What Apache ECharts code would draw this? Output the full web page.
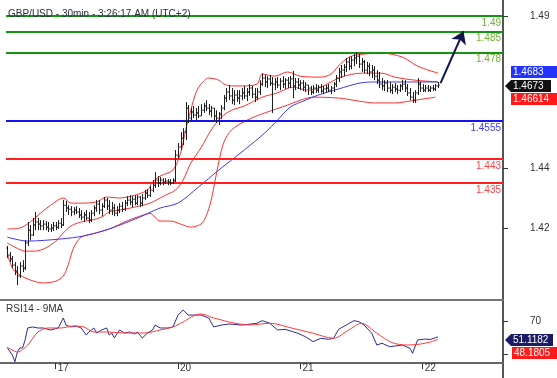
<!DOCTYPE html>
<html>
<head>
<meta charset="utf-8">
<script src="https://cdn.jsdelivr.net/npm/echarts@6/dist/echarts.min.js"></script>
<style>
html, body { margin: 0; padding: 0; background: #fff; }
#main { width: 557px; height: 378px; }
</style>
</head>
<body>
<div id="main"></div>
<script>
// GBP/USD 30 min bars : [open, close, low, high]
var ohlc = [
  [1.4136,1.4113,1.4103,1.4143],[1.4113,1.4100,1.4090,1.4123],[1.4100,1.4080,1.4070,1.4110],[1.4080,1.4060,1.4047,1.4090],
  [1.4060,1.4044,1.4014,1.4077],[1.4044,1.4077,1.4037,1.4090],[1.4077,1.4070,1.4057,1.4096],[1.4070,1.4153,1.4064,1.4162],
  [1.4153,1.4195,1.4143,1.4222],[1.4195,1.4179,1.4162,1.4212],[1.4179,1.4212,1.4176,1.4235],[1.4212,1.4222,1.4195,1.4255],
  [1.4222,1.4215,1.4195,1.4235],[1.4215,1.4209,1.4195,1.4228],[1.4209,1.4215,1.4195,1.4228],[1.4215,1.4205,1.4195,1.4225],
  [1.4205,1.4199,1.4189,1.4222],[1.4199,1.4202,1.4189,1.4215],[1.4202,1.4209,1.4192,1.4222],[1.4209,1.4205,1.4195,1.4222],
  [1.4205,1.4218,1.4199,1.4228],[1.4218,1.4212,1.4202,1.4235],[1.4212,1.4277,1.4209,1.4294],[1.4277,1.4268,1.4255,1.4291],
  [1.4268,1.4264,1.4245,1.4277],[1.4264,1.4255,1.4241,1.4274],[1.4255,1.4261,1.4245,1.4271],[1.4261,1.4255,1.4248,1.4274],
  [1.4255,1.4245,1.4235,1.4268],[1.4245,1.4238,1.4228,1.4261],[1.4238,1.4245,1.4222,1.4255],[1.4245,1.4235,1.4228,1.4261],
  [1.4235,1.4228,1.4218,1.4255],[1.4228,1.4251,1.4222,1.4261],[1.4251,1.4268,1.4241,1.4277],[1.4268,1.4281,1.4255,1.4294],
  [1.4281,1.4261,1.4248,1.4294],[1.4261,1.4274,1.4241,1.4284],[1.4274,1.4294,1.4268,1.4304],[1.4294,1.4274,1.4261,1.4301],
  [1.4274,1.4261,1.4248,1.4294],[1.4261,1.4268,1.4245,1.4288],[1.4268,1.4251,1.4241,1.4281],[1.4251,1.4261,1.4241,1.4274],
  [1.4261,1.4274,1.4251,1.4284],[1.4274,1.4264,1.4255,1.4288],[1.4264,1.4284,1.4258,1.4294],[1.4284,1.4294,1.4274,1.4307],
  [1.4294,1.4288,1.4277,1.4310],[1.4288,1.4297,1.4271,1.4307],[1.4297,1.4284,1.4277,1.4310],[1.4284,1.4304,1.4277,1.4310],
  [1.4304,1.4284,1.4271,1.4307],[1.4284,1.4301,1.4274,1.4314],[1.4301,1.4317,1.4294,1.4327],[1.4317,1.4310,1.4301,1.4330],
  [1.4310,1.4327,1.4304,1.4340],[1.4327,1.4343,1.4320,1.4360],[1.4343,1.4360,1.4334,1.4386],[1.4360,1.4350,1.4337,1.4373],
  [1.4350,1.4360,1.4343,1.4370],[1.4360,1.4353,1.4343,1.4366],[1.4353,1.4357,1.4347,1.4366],[1.4357,1.4353,1.4343,1.4363],
  [1.4353,1.4350,1.4343,1.4363],[1.4350,1.4357,1.4347,1.4366],[1.4360,1.4442,1.4353,1.4459],[1.4442,1.4469,1.4432,1.4482],
  [1.4469,1.4498,1.4459,1.4518],[1.4498,1.4518,1.4475,1.4531],[1.4518,1.4597,1.4492,1.4617],[1.4597,1.4564,1.4548,1.4607],
  [1.4564,1.4584,1.4557,1.4597],[1.4584,1.4574,1.4564,1.4604],[1.4574,1.4581,1.4557,1.4597],[1.4581,1.4571,1.4564,1.4604],
  [1.4571,1.4590,1.4571,1.4610],[1.4590,1.4604,1.4581,1.4614],[1.4604,1.4597,1.4587,1.4623],[1.4597,1.4587,1.4574,1.4610],
  [1.4587,1.4597,1.4567,1.4604],[1.4597,1.4571,1.4557,1.4597],[1.4571,1.4564,1.4548,1.4590],[1.4564,1.4577,1.4541,1.4584],
  [1.4577,1.4597,1.4561,1.4607],[1.4597,1.4630,1.4590,1.4640],[1.4630,1.4650,1.4617,1.4663],[1.4650,1.4637,1.4623,1.4673],
  [1.4637,1.4623,1.4610,1.4663],[1.4623,1.4640,1.4607,1.4656],[1.4640,1.4630,1.4617,1.4656],[1.4630,1.4637,1.4610,1.4656],
  [1.4637,1.4647,1.4623,1.4663],[1.4647,1.4637,1.4627,1.4670],[1.4637,1.4650,1.4620,1.4663],[1.4650,1.4663,1.4637,1.4676],
  [1.4663,1.4643,1.4630,1.4670],[1.4643,1.4633,1.4617,1.4663],[1.4633,1.4650,1.4623,1.4663],[1.4650,1.4676,1.4640,1.4689],
  [1.4676,1.4696,1.4670,1.4712],[1.4696,1.4683,1.4666,1.4706],[1.4683,1.4693,1.4663,1.4702],[1.4693,1.4679,1.4670,1.4706],
  [1.4679,1.4676,1.4581,1.4699],[1.4676,1.4683,1.4656,1.4696],[1.4683,1.4673,1.4663,1.4699],[1.4673,1.4686,1.4656,1.4696],
  [1.4686,1.4676,1.4663,1.4702],[1.4676,1.4689,1.4660,1.4696],[1.4689,1.4679,1.4663,1.4699],[1.4679,1.4693,1.4663,1.4702],
  [1.4693,1.4670,1.4630,1.4719],[1.4670,1.4683,1.4656,1.4696],[1.4683,1.4673,1.4660,1.4696],[1.4673,1.4679,1.4656,1.4689],
  [1.4679,1.4666,1.4653,1.4689],[1.4666,1.4673,1.4650,1.4683],[1.4673,1.4663,1.4640,1.4673],[1.4663,1.4650,1.4640,1.4670],
  [1.4650,1.4663,1.4643,1.4673],[1.4663,1.4656,1.4647,1.4676],[1.4656,1.4666,1.4647,1.4673],[1.4666,1.4653,1.4647,1.4676],
  [1.4653,1.4660,1.4643,1.4670],[1.4660,1.4663,1.4647,1.4673],[1.4663,1.4656,1.4650,1.4676],[1.4656,1.4663,1.4643,1.4670],
  [1.4663,1.4676,1.4650,1.4683],[1.4676,1.4696,1.4666,1.4706],[1.4696,1.4716,1.4683,1.4729],[1.4716,1.4722,1.4696,1.4739],
  [1.4722,1.4732,1.4702,1.4742],[1.4732,1.4749,1.4716,1.4762],[1.4749,1.4735,1.4722,1.4765],[1.4735,1.4755,1.4725,1.4768],
  [1.4755,1.4762,1.4735,1.4775],[1.4762,1.4768,1.4742,1.4782],[1.4768,1.4742,1.4729,1.4775],[1.4742,1.4749,1.4716,1.4762],
  [1.4749,1.4722,1.4712,1.4755],[1.4722,1.4735,1.4709,1.4749],[1.4735,1.4716,1.4702,1.4745],[1.4716,1.4722,1.4696,1.4739],
  [1.4722,1.4702,1.4689,1.4735],[1.4702,1.4689,1.4676,1.4722],[1.4689,1.4676,1.4663,1.4716],[1.4676,1.4670,1.4656,1.4696],
  [1.4670,1.4679,1.4653,1.4689],[1.4679,1.4663,1.4650,1.4689],[1.4663,1.4656,1.4647,1.4683],[1.4656,1.4666,1.4643,1.4676],
  [1.4666,1.4660,1.4650,1.4679],[1.4660,1.4656,1.4643,1.4673],[1.4656,1.4670,1.4650,1.4676],[1.4670,1.4676,1.4656,1.4689],
  [1.4676,1.4663,1.4650,1.4689],[1.4663,1.4647,1.4637,1.4676],[1.4647,1.4633,1.4623,1.4663],[1.4633,1.4623,1.4614,1.4650],
  [1.4623,1.4647,1.4614,1.4656],[1.4647,1.4676,1.4640,1.4696],[1.4676,1.4663,1.4650,1.4683],[1.4663,1.4656,1.4650,1.4676],
  [1.4656,1.4663,1.4650,1.4673],[1.4663,1.4656,1.4650,1.4673],[1.4656,1.4663,1.4650,1.4670],[1.4663,1.4660,1.4653,1.4673],
  [1.4660,1.4670,1.4653,1.4676],[1.4670,1.4673,1.4663,1.4683]
];

var slotCount = 195;            // bar slots across the plot (empty ones on the right)
var dayStart = [19, 67, 115, 163];
var dayNames = ['17', '20', '21', '22'];
var priceTicks = [1.42, 1.44, 1.49];
var rsiTicks = [30, 70];

// indicators : [bar index, value]
var bbUpper = [[0,1.4199],[5,1.4202],[9,1.4222],[13,1.4251],[17,1.4277],[22,1.4301],[25,1.4284],[29,1.4284],[35,1.4288],[39,1.4304],
  [44,1.4301],[50,1.4310],[55,1.4327],[57,1.4353],[60,1.4373],[65,1.4393],[68,1.4449],[70,1.4525],[72,1.4590],[74,1.4647],
  [76,1.4676],[79,1.4696],[83,1.4689],[85,1.4676],[88,1.4670],[92,1.4670],[98,1.4676],[100,1.4709],[105,1.4702],[110,1.4716],
  [115,1.4702],[123,1.4699],[127,1.4709],[131,1.4745],[135,1.4768],[140,1.4775],[147,1.4778],[155,1.4765],[161,1.4735],[169,1.4712]];
var bbMiddle = [[0,1.4153],[3,1.4139],[7,1.4126],[11,1.4126],[15,1.4136],[19,1.4159],[22,1.4186],[25,1.4209],[29,1.4222],[33,1.4228],
  [37,1.4238],[40,1.4255],[44,1.4261],[50,1.4271],[56,1.4284],[62,1.4310],[66,1.4327],[69,1.4360],[72,1.4416],[76,1.4466],
  [80,1.4525],[84,1.4567],[88,1.4590],[93,1.4604],[100,1.4633],[106,1.4647],[112,1.4666],[118,1.4656],[123,1.4666],[131,1.4699],
  [139,1.4712],[147,1.4712],[152,1.4699],[160,1.4689],[169,1.4683]];
var bbLower = [[0,1.4120],[2,1.4070],[5,1.4047],[9,1.4031],[14,1.4021],[19,1.4027],[22,1.4044],[24,1.4083],[26,1.4136],[29,1.4172],
  [35,1.4186],[41,1.4202],[46,1.4222],[52,1.4241],[56,1.4250],[60,1.4225],[64,1.4225],[68,1.4215],[72,1.4205],[76,1.4215],
  [78,1.4241],[80,1.4294],[83,1.4420],[85,1.4485],[88,1.4525],[94,1.4557],[101,1.4581],[110,1.4607],[115,1.4623],[120,1.4633],
  [130,1.4630],[138,1.4620],[144,1.4614],[152,1.4614],[160,1.4623],[168,1.4633]];
var blueMa = [[0,1.4172],[8,1.4159],[21,1.4166],[30,1.4176],[40,1.4199],[52,1.4238],[60,1.4268],[67,1.4284],[75,1.4337],[83,1.4393],
  [88,1.4426],[93,1.4459],[101,1.4515],[106,1.4557],[111,1.4600],[117,1.4623],[122,1.4640],[130,1.4660],[138,1.4679],[144,1.4683],
  [156,1.4683],[169,1.4683]];
var rsi14 = [[0,38.2],[2,29.5],[3,21.5],[4,33.5],[5,37.9],[6,37.9],[7,47.4],[8,61.7],[10,62.9],[12,61.7],[14,61.7],[17,59.3],
  [20,61.7],[22,73.6],[23,65.2],[25,62.9],[27,64.0],[29,61.7],[31,53.3],[32,56.9],[34,61.7],[35,55.7],[37,59.3],[39,61.7],
  [40,53.3],[41,55.7],[42,49.8],[44,59.3],[46,55.7],[48,56.9],[50,54.5],[51,56.9],[53,49.8],[55,55.7],[57,59.3],[58,65.2],
  [60,61.7],[63,61.7],[65,62.9],[67,77.1],[69,83.1],[71,77.1],[73,77.1],[76,77.1],[79,73.6],[81,62.9],[84,65.2],[87,66.4],
  [92,65.2],[98,67.3],[100,70.4],[103,67.3],[106,59.3],[109,60.1],[112,57.3],[114,55.4],[117,51.3],[120,45.4],[123,49.4],
  [126,48.2],[128,49.4],[130,60.1],[133,65.2],[136,70.4],[138,69.2],[140,65.2],[143,55.4],[145,41.4],[147,43.5],[150,39.4],
  [152,40.2],[155,41.4],[158,37.5],[159,31.5],[161,47.5],[164,48.5],[166,48.0],[169,51.1182]];
var rsiMa9 = [[0,39.0],[4,33.1],[8,41.4],[12,56.9],[16,61.7],[21,61.7],[26,64.0],[30,62.9],[34,56.9],[39,56.9],[47,55.7],
  [54,55.7],[60,59.3],[65,62.9],[69,68.8],[73,76.0],[76,78.3],[81,73.6],[84,71.2],[87,68.8],[95,65.2],[103,67.3],[112,61.3],
  [120,55.4],[128,49.4],[134,59.3],[139,67.3],[145,55.4],[151,44.2],[157,41.4],[162,42.5],[166,45.0],[169,48.1805]];

// support / resistance levels
var levels = [1.49, 1.485, 1.478, 1.4555, 1.443, 1.435];
var levelNames = ['1.49', '1.485', '1.478', '1.4555', '1.443', '1.435'];
var levelColors = ['#149614', '#149614', '#149614', '#1414f0', '#ff2020', '#ff2020'];
var levelTextColors = ['#6cb32e', '#6cb32e', '#6cb32e', '#3c3cff', '#ff4040', '#ff4040'];
var arrowFrom = [170, 1.4679];
var arrowTo = [179, 1.485];

var FONT = 'Liberation Sans, Arial, sans-serif';

var categories = [];
for (var i = 0; i < slotCount; i++) categories.push(String(i));

var barData = ohlc.map(function (d, i) { return [i, d[0], d[1], d[2], d[3]]; });

function renderOhlc(params, api) {
  var idx = api.value(0);
  var o = api.coord([idx, api.value(1)]);
  var c = api.coord([idx, api.value(2)]);
  var l = api.coord([idx, api.value(3)]);
  var h = api.coord([idx, api.value(4)]);
  var w = api.size([1, 0])[0] * 0.5;
  var x = Math.round(h[0]) + 0.5;
  var st = { stroke: '#1e1e1e', lineWidth: 1 };
  return {
    type: 'group',
    children: [
      { type: 'line', shape: { x1: x, y1: h[1], x2: x, y2: l[1] }, style: st },
      { type: 'line', shape: { x1: x - w, y1: o[1], x2: x, y2: o[1] }, style: st },
      { type: 'line', shape: { x1: x, y1: c[1], x2: x + w, y2: c[1] }, style: st }
    ]
  };
}

var levelLines = levels.map(function (v, k) {
  return {
    yAxis: v,
    lineStyle: { color: levelColors[k], width: 2, type: 'solid' },
    label: {
      show: true, position: 'insideEndBottom', distance: 2,
      formatter: levelNames[k], color: levelTextColors[k],
      fontSize: 10, fontFamily: FONT
    }
  };
});

function tag(x, y, w, text, bg, pointed) {
  var shape = pointed
    ? { type: 'polygon', shape: { points: [[x - 6, y + 6], [x, y], [x + w, y], [x + w, y + 12], [x, y + 12]] } }
    : { type: 'rect', shape: { x: x, y: y, width: w, height: 12 } };
  shape.style = { fill: bg };
  shape.z = 100;
  return [shape, {
    type: 'text', x: x + 2, y: y + 6, z: 101,
    style: { text: text, fill: '#fff', font: '10px ' + FONT, verticalAlign: 'middle' }
  }];
}

var chart = echarts.init(document.getElementById('main'));
chart.setOption({
  animation: false,
  backgroundColor: '#fff',
  title: {
    text: 'GBP/USD - 30min - 3:26:17 AM (UTC+2)',
    left: 3, top: 4,
    textStyle: { fontSize: 10, fontWeight: 'normal', color: '#2e2e3e', fontFamily: FONT }
  },
  grid: [
    { left: 6, right: 54, top: 0, height: 300 },
    { left: 6, right: 54, top: 300, height: 63 }
  ],
  xAxis: [
    {
      type: 'category', gridIndex: 0, data: categories, boundaryGap: true,
      axisLine: { show: true, lineStyle: { color: '#777', width: 2 } },
      axisTick: { show: false }, axisLabel: { show: false }, splitLine: { show: false }
    },
    {
      type: 'category', gridIndex: 1, data: categories, boundaryGap: true,
      axisLine: { show: true, lineStyle: { color: '#666', width: 2 } },
      axisTick: {
        show: true, alignWithLabel: true, length: 6,
        interval: function (idx) { return dayStart.indexOf(idx) >= 0; },
        lineStyle: { color: '#333' }
      },
      axisLabel: {
        interval: function (idx) { return dayStart.indexOf(idx) >= 0; },
        formatter: function (v, idx) { return dayNames[dayStart.indexOf(idx)]; },
        align: 'left', padding: [0, 0, 0, 2], margin: 0,
        fontSize: 10, color: '#333', fontFamily: FONT
      },
      splitLine: { show: false }
    }
  ],
  yAxis: [
    {
      type: 'value', gridIndex: 0, position: 'right', min: 1.3965, max: 1.4953,
      axisLine: { show: true, lineStyle: { color: '#555', width: 2 } },
      axisTick: { show: true, length: 5, customValues: priceTicks, lineStyle: { color: '#333' } },
      axisLabel: {
        customValues: priceTicks, margin: 27, fontSize: 10, color: '#333', fontFamily: FONT,
        formatter: function (v) { return String(Math.round(v * 100) / 100); }
      },
      splitLine: { show: false }
    },
    {
      type: 'value', gridIndex: 1, position: 'right', min: 20, max: 95,
      axisLine: { show: true, lineStyle: { color: '#555', width: 2 } },
      axisTick: { show: true, length: 5, customValues: rsiTicks, lineStyle: { color: '#333' } },
      axisLabel: { customValues: rsiTicks, margin: 27, fontSize: 10, color: '#333', fontFamily: FONT },
      splitLine: { show: false }
    }
  ],
  series: [
    {
      name: 'levels', type: 'line', xAxisIndex: 0, yAxisIndex: 0, data: [],
      markLine: { silent: true, precision: 4, symbol: ['none', 'none'], data: levelLines }
    },
    {
      name: 'bb upper', type: 'line', data: bbUpper, showSymbol: false, smooth: 0.3,
      lineStyle: { color: '#ff3030', width: 1 }
    },
    {
      name: 'bb middle', type: 'line', data: bbMiddle, showSymbol: false, smooth: 0.3,
      lineStyle: { color: '#ff3030', width: 1 }
    },
    {
      name: 'bb lower', type: 'line', data: bbLower, showSymbol: false, smooth: 0.3,
      lineStyle: { color: '#ff3030', width: 1 }
    },
    {
      name: 'ma', type: 'line', data: blueMa, showSymbol: false, smooth: 0.3,
      lineStyle: { color: '#3a3af0', width: 1 },
      markLine: {
        silent: true, precision: 4, symbol: ['none', 'arrow'], symbolSize: 12,
        label: { show: false },
        lineStyle: { color: '#14144e', width: 2, type: 'solid' },
        data: [[{ coord: arrowFrom }, { coord: arrowTo }]]
      }
    },
    {
      name: 'GBP/USD', type: 'custom', renderItem: renderOhlc, data: barData,
      encode: { x: 0, y: [1, 2, 3, 4] }, z: 5
    },
    {
      name: 'RSI14', type: 'line', xAxisIndex: 1, yAxisIndex: 1, data: rsi14, showSymbol: false,
      lineStyle: { color: '#2c2c96', width: 1 }
    },
    {
      name: '9MA', type: 'line', xAxisIndex: 1, yAxisIndex: 1, data: rsiMa9, showSymbol: false, smooth: 0.3,
      lineStyle: { color: '#ff3a3a', width: 1 }
    }
  ],
  graphic: [
    { type: 'text', left: 6, top: 304, style: { text: 'RSI14 - 9MA', fill: '#333', font: '10px ' + FONT } },
    // frame pieces outside the grids: separator and axis lines run to the edges
    { type: 'line', shape: { x1: 0, y1: 300, x2: 7, y2: 300 }, style: { stroke: '#777', lineWidth: 2 } },
    { type: 'line', shape: { x1: 0, y1: 363, x2: 7, y2: 363 }, style: { stroke: '#666', lineWidth: 2 } },
    { type: 'line', shape: { x1: 503, y1: 362, x2: 503, y2: 378 }, style: { stroke: '#555', lineWidth: 2 } }
  ]
    .concat(tag(511, 66, 46, '1.4683', '#2233ff', false))
    .concat(tag(511, 80, 40, '1.4673', '#111111', true))
    .concat(tag(511, 93, 46, '1.46614', '#ff1a1a', false))
    .concat(tag(511, 334, 42, '51.1182', '#1a1a66', true))
    .concat(tag(512, 347, 45, '48.1805', '#ff1a1a', false))
});
</script>
</body>
</html>
